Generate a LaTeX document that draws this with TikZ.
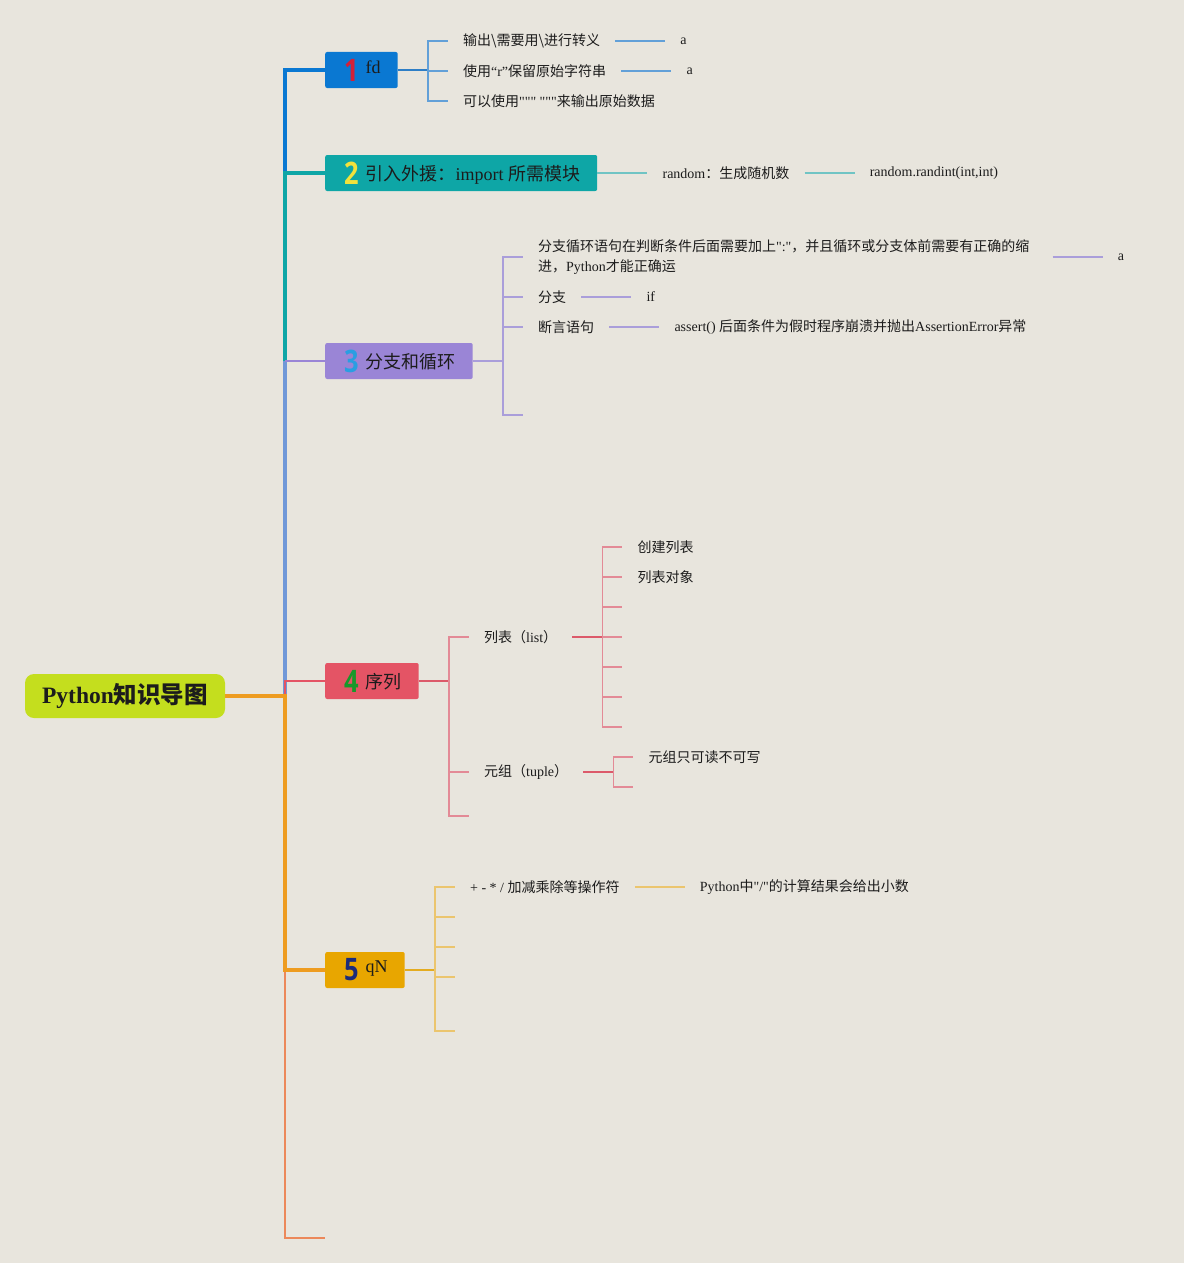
\documentclass[tikz,border=0pt]{standalone}
\usepackage{fontspec}
\setmainfont{Liberation Serif}[Ligatures=TeXOff]
\newfontfamily\cjkfont{Noto Sans CJK SC}
\newfontfamily\digitfont[FakeStretch=0.82]{Open Sans}
\usetikzlibrary{positioning}
\definecolor{bgclr}{RGB}{232,229,221}
\definecolor{txtclr}{RGB}{28,28,28}
\definecolor{rootclr}{RGB}{196,222,30}
\definecolor{aclr}{RGB}{10,120,210}
\definecolor{bclr}{RGB}{14,166,166}
\definecolor{cclr}{RGB}{154,133,214}
\definecolor{dclr}{RGB}{228,84,101}
\definecolor{eclr}{RGB}{232,166,0}
\definecolor{trunkclr}{RGB}{238,156,32}
\definecolor{tailclr}{RGB}{236,136,90}
\definecolor{linkclr}{RGB}{112,152,216}
\definecolor{astem}{RGB}{46,126,198}
\definecolor{atwig}{RGB}{98,160,216}
\definecolor{btwig}{RGB}{112,196,196}
\definecolor{ctwig}{RGB}{170,158,218}
\definecolor{dstem}{RGB}{220,90,106}
\definecolor{dtwig}{RGB}{227,138,150}
\definecolor{estem}{RGB}{228,172,32}
\definecolor{etwig}{RGB}{235,197,110}
\definecolor{numa}{RGB}{212,32,56}
\definecolor{numb}{RGB}{240,226,60}
\definecolor{numc}{RGB}{42,158,226}
\definecolor{numd}{RGB}{24,152,42}
\definecolor{nume}{RGB}{28,44,122}
\tikzset{
    root/.style={rectangle,rounded corners=9pt,fill=rootclr,minimum width=200pt,minimum height=44pt,inner sep=0pt,font=\fontsize{23.5}{26}\selectfont\bfseries},
    topic/.style={rectangle,rounded corners=2pt,anchor=west,minimum height=36pt,inner xsep=17pt,inner ysep=0pt,font=\fontsize{18}{20}\selectfont},
    leaf/.style={anchor=west,inner xsep=15pt,inner ysep=2pt,font=\fontsize{14}{20}\selectfont,align=left},
    trunk/.style={line width=4.5pt},
    thinlink/.style={line width=2pt},
    stem/.style={line width=2pt},
    twig/.style={line width=1.5pt},
}
\newcommand{\cjk}[1]{{\cjkfont #1}}
\newcommand{\topicnum}[2]{\hspace{2pt}\raisebox{-4pt}{\digitfont\bfseries\fontsize{31}{31}\selectfont\color{#1}#2}\hspace{7pt}}
\newcommand{\uplatin}[1]{\raisebox{4pt}{#1}}

\begin{document}
\begin{tikzpicture}[x=1pt,y=-1pt,every node/.style={text=txtclr}]
\fill[bgclr] (0,0) rectangle (1184,1263);
\useasboundingbox (0,0) rectangle (1184,1263);

% root and main topics
\node[root] (root) at (125,696) {Python\cjk{知识导图}};
\coordinate (fork) at (285,696);
\coordinate (tail) at (325,1238);
\node[topic,fill=aclr] (t1) at (325,70)  {\topicnum{numa}{1}\uplatin{fd}};
\node[topic,fill=bclr] (t2) at (325,173) {\topicnum{numb}{2}\cjk{引入外援：}import \cjk{所需模块}};
\node[topic,fill=cclr] (t3) at (325,361) {\topicnum{numc}{3}\cjk{分支和循环}};
\node[topic,fill=dclr] (t4) at (325,681) {\topicnum{numd}{4}\cjk{序列}};
\node[topic,fill=eclr] (t5) at (325,970) {\topicnum{nume}{5}\uplatin{qN}};

\draw[trunk,aclr] (fork) |- (t1.west);
\draw[trunk,bclr] (fork) |- (t2.west);
\draw[trunk,linkclr] (fork) -- (fork |- t3.west);
\draw[thinlink,cclr] (fork |- t3.west) -- (t3.west);
\draw[thinlink,tailclr] (fork) |- (tail);
\draw[thinlink,dclr] (fork) |- (t4.west);
\draw[trunk,trunkclr] (root.east) -- (fork) |- (t5.west);

% 1 fd
\coordinate (f1) at ([xshift=30pt]t1.east);
\coordinate (g1) at ([xshift=50pt]t1.east);
\node[leaf] (n11) at (g1 |- 0,41)  {\cjk{输出\textbackslash 需要用\textbackslash 进行转义}};
\node[leaf,right=50pt of n11] (n11a) {a};
\node[leaf] (n12) at (g1 |- 0,71)  {\cjk{使用}“r”\cjk{保留原始字符串}};
\node[leaf,right=50pt of n12] (n12a) {a};
\node[leaf] (n13) at (g1 |- 0,101) {\cjk{可以使用}""" """\cjk{来输出原始数据}};
\draw[stem,astem] (t1.east) -- (f1);
\draw[twig,atwig] (f1) |- (n11.west);
\draw[twig,atwig] (f1) |- (n12.west);
\draw[twig,atwig] (f1) |- (n13.west);
\draw[twig,atwig] (n11.east) -- (n11a.west);
\draw[twig,atwig] (n12.east) -- (n12a.west);

% 2 import
\node[leaf,right=50pt of t2] (n21) {random\cjk{：生成随机数}};
\node[leaf,right=50pt of n21] (n22) {random.randint(int,int)};
\draw[twig,btwig] (t2.east) -- (n21.west);
\draw[twig,btwig] (n21.east) -- (n22.west);

% 3 branches and loops
\coordinate (f3) at ([xshift=30pt]t3.east);
\coordinate (g3) at ([xshift=50pt]t3.east);
\node[leaf] (n31) at (g3 |- 0,257) {\cjk{分支循环语句在判断条件后面需要加上}":"\cjk{，并且循环或分支体前需要有正确的缩}\\\cjk{进，}Python\cjk{才能正确运}};
\node[leaf,right=58pt of n31] (n31a) {a};
\node[leaf] (n32) at (g3 |- 0,297) {\cjk{分支}};
\node[leaf,right=50pt of n32] (n32a) {if};
\node[leaf] (n33) at (g3 |- 0,327) {\cjk{断言语句}};
\node[leaf,right=50pt of n33] (n33a) {assert() \cjk{后面条件为假时程序崩溃并抛出}AssertionError\cjk{异常}};
\coordinate (e34) at (g3 |- 0,415);
\draw[twig,ctwig] (t3.east) -- (f3);
\draw[twig,ctwig] (f3) |- (n31.west);
\draw[twig,ctwig] (f3) |- (n32.west);
\draw[twig,ctwig] (f3) |- (n33.west);
\draw[twig,ctwig] (f3) |- (e34);
\draw[twig,ctwig] ([xshift=8pt]n31.east) -- (n31a.west);
\draw[twig,ctwig] (n32.east) -- (n32a.west);
\draw[twig,ctwig] (n33.east) -- (n33a.west);

% 4 sequences
\coordinate (f4) at ([xshift=30pt]t4.east);
\coordinate (g4) at ([xshift=50pt]t4.east);
\node[leaf] (n41) at (g4 |- 0,637) {\cjk{列表（}list\cjk{）}};
\node[leaf] (n42) at (g4 |- 0,772) {\cjk{元组（}tuple\cjk{）}};
\coordinate (e43) at (g4 |- 0,816);
\draw[stem,dstem] (t4.east) -- (f4);
\draw[twig,dtwig] (f4) |- (n41.west);
\draw[twig,dtwig] (f4) |- (n42.west);
\draw[twig,dtwig] (f4) |- (e43);

\coordinate (f41) at ([xshift=30pt]n41.east);
\coordinate (g41) at ([xshift=50pt]n41.east);
\node[leaf] (n411) at (g41 |- 0,547) {\cjk{创建列表}};
\node[leaf] (n412) at (g41 |- 0,577) {\cjk{列表对象}};
\draw[stem,dstem] (n41.east) -- (f41);
\draw[twig,dtwig] (f41) |- (n411.west);
\draw[twig,dtwig] (f41) |- (n412.west);
\foreach \y in {607,637,667,697,727}
    \draw[twig,dtwig] (f41) |- (g41 |- 0,\y);

\coordinate (f42) at ([xshift=30pt]n42.east);
\coordinate (g42) at ([xshift=50pt]n42.east);
\node[leaf] (n421) at (g42 |- 0,757) {\cjk{元组只可读不可写}};
\coordinate (e422) at (g42 |- 0,787);
\draw[stem,dstem] (n42.east) -- (f42);
\draw[twig,dtwig] (f42) |- (n421.west);
\draw[twig,dtwig] (f42) |- (e422);

% 5 operators
\coordinate (f5) at ([xshift=30pt]t5.east);
\coordinate (g5) at ([xshift=50pt]t5.east);
\node[leaf] (n51) at (g5 |- 0,887) {+ - * / \cjk{加减乘除等操作符}};
\node[leaf,right=50pt of n51] (n51a) {Python\cjk{中}"/"\cjk{的计算结果会给出小数}};
\draw[stem,estem] (t5.east) -- (f5);
\draw[twig,etwig] (f5) |- (n51.west);
\foreach \y in {917,947,977,1031}
    \draw[twig,etwig] (f5) |- (g5 |- 0,\y);
\draw[twig,etwig] (n51.east) -- (n51a.west);
\end{tikzpicture}
\end{document}
